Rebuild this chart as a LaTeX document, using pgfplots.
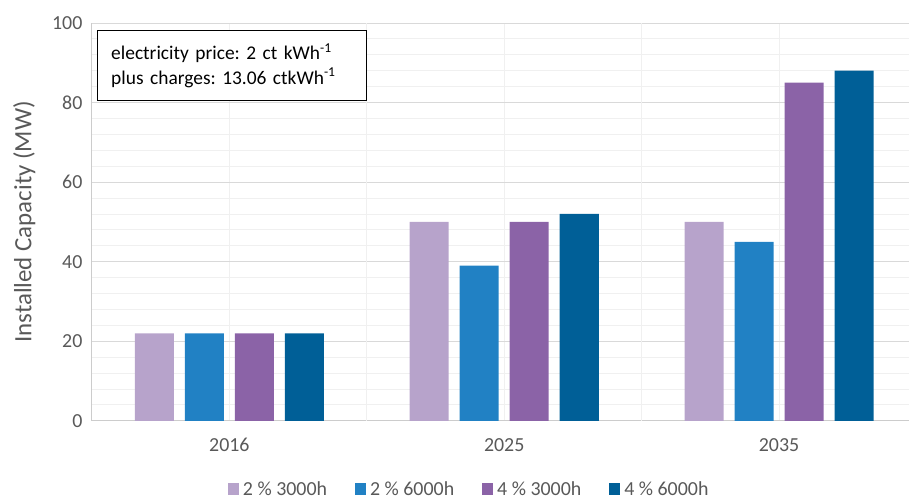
\documentclass[border=0pt]{standalone}
\usepackage{fontspec}
\setmainfont{Carlito}
\usepackage{pgfplots}
\pgfplotsset{compat=1.18}
\definecolor{cA}{HTML}{B7A3CB}
\definecolor{cB}{HTML}{2181C4}
\definecolor{cC}{HTML}{8B63A7}
\definecolor{cD}{HTML}{005F97}
\definecolor{txt}{HTML}{595959}
\frenchspacing
\begin{document}
\begin{tikzpicture}
\begin{axis}[
  name=ax,
  scale only axis,
  width=817bp, height=398bp,
  xmin=-0.5, xmax=2.471,
  ymin=0, ymax=100,
  ytick={0,20,...,100},
  minor ytick={4,8,12,16,24,28,32,36,44,48,52,56,64,68,72,76,84,88,92,96},
  ymajorgrids, yminorgrids,
  major grid style={draw=black!15, line width=0.8pt},
  minor grid style={draw=black!6, line width=0.8pt},
  xtick={0,1,2},
  xticklabels={2016,2025,2035},
  xmajorgrids,
  extra x ticks={0.5,1.5},
  extra x tick labels={},
  extra x tick style={grid=major, major grid style={draw=black!15, line width=1pt}},
  x grid style={draw=black!6, line width=0.8pt},
  tick style={draw=none},
  axis line style={draw=none},
  axis x line*=bottom,
  axis y line*=left,
  x axis line style={draw=black!20, line width=1pt},
  y axis line style={draw=black!20, line width=1pt},
  ticklabel style={font=\fontsize{20}{24}\selectfont, text=txt},
  /pgf/number format/assume math mode=true,
  yticklabel style={xshift=-6bp},
  xticklabel style={yshift=-10bp},
  ylabel={Installed Capacity (MW)},
  ylabel style={font=\fontsize{25}{28}\selectfont, text=txt, yshift=10bp},
  ybar,
  bar width=0.142,
  legend columns=4,
  legend style={draw=none, at={(0.462,-0.142)}, anchor=north, font=\fontsize{20}{24}\selectfont, text=txt,
    /tikz/every even column/.append style={column sep=26bp},
    /tikz/every odd column/.append style={column sep=2bp}},
  legend image code/.code={\fill[#1] (0bp,-6bp) rectangle (11bp,6bp);},
  clip=false,
]
\addplot[fill=cA, draw=none, bar shift=-0.273] coordinates {(0,22) (1,50) (2,50)};
\addplot[fill=cB, draw=none, bar shift=-0.091] coordinates {(0,22) (1,39) (2,45)};
\addplot[fill=cC, draw=none, bar shift=0.091] coordinates {(0,22) (1,50) (2,85)};
\addplot[fill=cD, draw=none, bar shift=0.273] coordinates {(0,22) (1,52) (2,88)};
\legend{2 \% 3000h, 2 \% 6000h, 4 \% 3000h, 4 \% 6000h}
\node[draw=black, line width=0.8pt, fill=white, anchor=north west, align=left,
  font=\fontsize{19.5}{25}\selectfont, inner xsep=14bp, inner ysep=8bp,
  minimum width=269bp, minimum height=70bp, text width=241bp]
  at (rel axis cs:0.006,0.982)
  {electricity price: 2 ct kWh\textsuperscript{-1}\\plus charges: 13.06 ctkWh\textsuperscript{-1}};
\end{axis}
\path[use as bounding box] ([shift={(-92bp,-81bp)}]ax.south west) rectangle ([shift={(0bp,23bp)}]ax.north east);
\end{tikzpicture}
\end{document}
